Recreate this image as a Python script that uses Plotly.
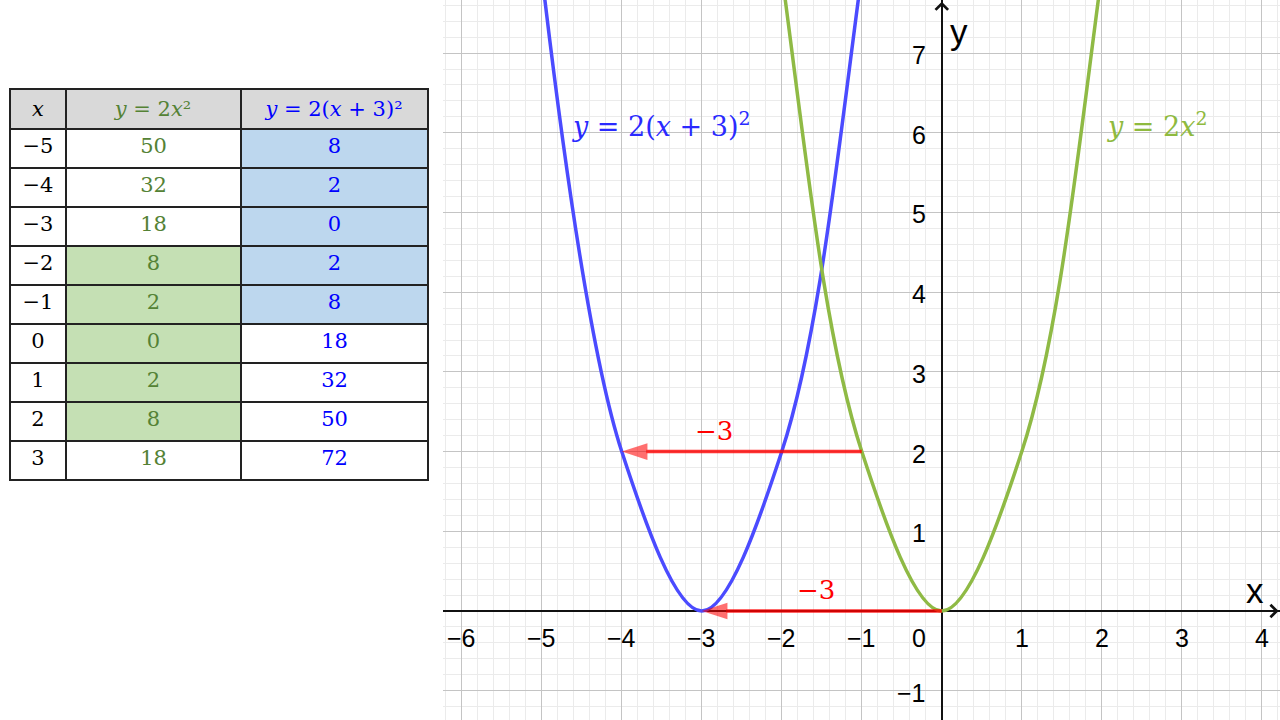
import plotly.graph_objects as go

# ---------------- data ----------------
x_vals = [-5, -4, -3, -2, -1, 0, 1, 2, 3]
y_base = [50, 32, 18, 8, 2, 0, 2, 8, 18]          # y = 2x^2
y_shifted = [8, 2, 0, 2, 8, 18, 32, 50, 72]       # y = 2(x+3)^2
x_text = ["−5", "−4", "−3", "−2", "−1", "0", "1", "2", "3"]
header_text = ["<i>x</i>", "<i>y</i> = 2<i>x</i>²", "<i>y</i> = 2(<i>x</i> + 3)²"]
green_hl = [False, False, False, True, True, True, True, True, False]
blue_hl = [True, True, True, True, True, False, False, False, False]

shift_label = "−3"
arrow_from_x = [-1, 0]
arrow_to_x = [-4, -3]
arrow_y = [2, 0]

x_tick_vals = [-6, -5, -4, -3, -2, -1, 1, 2, 3, 4]
x_tick_text = ["−6", "−5", "−4", "−3", "−2", "−1", "1", "2", "3", "4"]
y_tick_vals = [-1, 1, 2, 3, 4, 5, 6, 7]
y_tick_text = ["−1", "1", "2", "3", "4", "5", "6", "7"]

# ---------------- styles ----------------
BLUE_CURVE = "#4b4bff"
GREEN_CURVE = "#8fba45"
GREEN_TXT = "#548235"
BLUE_TXT = "#0000ff"
RED = "#ff0000"
SERIF = "DejaVu Serif"
SANS = "Liberation Sans"

fig = go.Figure()

# ---------------- table ----------------
fig.add_trace(go.Table(
    domain=dict(x=[10 / 1280, 428 / 1280], y=[1 - 486 / 720, 1 - 89 / 720]),
    columnwidth=[56, 175, 187],
    header=dict(
        values=header_text,
        fill_color="#d9d9d9",
        line=dict(color="#222222", width=1.2),
        font=dict(family=SERIF, size=21, color=["black", GREEN_TXT, BLUE_TXT]),
        align="center",
        height=39,
    ),
    cells=dict(
        values=[x_text, [str(v) for v in y_base], [str(v) for v in y_shifted]],
        fill_color=[
            ["white"] * len(x_vals),
            ["#c5e0b4" if g else "white" for g in green_hl],
            ["#bdd7ee" if b else "white" for b in blue_hl],
        ],
        line=dict(color="#222222", width=1.2),
        font=dict(family=SERIF, size=21, color=["black", GREEN_TXT, BLUE_TXT]),
        align="center",
        height=39,
    ),
))

# ---------------- curves ----------------
fig.add_trace(go.Scatter(
    x=x_vals, y=y_shifted, mode="lines",
    line=dict(color=BLUE_CURVE, width=3.5, shape="spline", smoothing=1),
    hoverinfo="skip", showlegend=False,
))
fig.add_trace(go.Scatter(
    x=x_vals, y=y_base, mode="lines",
    line=dict(color=GREEN_CURVE, width=3.5, shape="spline", smoothing=1),
    hoverinfo="skip", showlegend=False,
))

# ---------------- shift arrows ----------------
for x0, x1, yy in zip(arrow_from_x, arrow_to_x, arrow_y):
    fig.add_trace(go.Scatter(
        x=[x0, x1], y=[yy, yy], mode="lines+markers",
        line=dict(color=RED, width=3.5),
        marker=dict(symbol=["circle", "arrow"], size=[0, 27], color=RED,
                    angleref="previous", line=dict(width=0)),
        opacity=0.8, hoverinfo="skip", showlegend=False,
    ))

fig.update_layout(
    width=1280, height=720,
    margin=dict(l=0, r=0, t=0, b=0),
    paper_bgcolor="white", plot_bgcolor="white",
    showlegend=False,
    xaxis=dict(
        domain=[443 / 1280, 1], range=[-6.234, 4.227],
        dtick=1, tick0=0, showgrid=True, gridcolor="#c4c4c4", gridwidth=1,
        minor=dict(dtick=0.2, tick0=0, showgrid=True, gridcolor="#ebebeb", gridwidth=1),
        zeroline=True, zerolinecolor="#111111", zerolinewidth=1.5,
        showticklabels=False, ticks="", fixedrange=True,
    ),
    yaxis=dict(
        domain=[0, 1], range=[-1.368, 7.666],
        dtick=1, tick0=0, showgrid=True, gridcolor="#c4c4c4", gridwidth=1,
        minor=dict(dtick=0.2, tick0=0, showgrid=True, gridcolor="#ebebeb", gridwidth=1),
        zeroline=True, zerolinecolor="#111111", zerolinewidth=1.5,
        showticklabels=False, ticks="", fixedrange=True,
    ),
)

ann = []
TICKFONT = dict(family=SANS, size=25, color="black")
# x tick labels
for v, t in zip(x_tick_vals, x_tick_text):
    ann.append(dict(x=v, y=0, xref="x", yref="y", text=t, showarrow=False,
                    yshift=-27, font=TICKFONT))
ann.append(dict(x=0, y=0, xref="x", yref="y", text="0", showarrow=False,
                xanchor="right", xshift=-14, yshift=-27, font=TICKFONT))
# y tick labels
for v, t in zip(y_tick_vals, y_tick_text):
    ann.append(dict(x=0, y=v, xref="x", yref="y", text=t, showarrow=False,
                    xanchor="right", xshift=-14, yshift=-2, font=TICKFONT))
# axis titles
ann.append(dict(x=4.227, y=0, xref="x", yref="y", text="x", showarrow=False,
                xanchor="right", xshift=-14, yshift=20,
                font=dict(family=SANS, size=35, color="black")))
ann.append(dict(x=0, y=7.666, xref="x", yref="y", text="y", showarrow=False,
                xanchor="left", yanchor="top", xshift=6, yshift=-10,
                font=dict(family=SANS, size=35, color="black")))
# axis arrow heads
ann.append(dict(x=4.21, y=0, xref="x", yref="y", ax=-14, ay=0, showarrow=True,
                arrowhead=4, arrowwidth=1.1, arrowsize=2.2, arrowcolor="#111111", text=""))
ann.append(dict(x=0, y=7.645, xref="x", yref="y", ax=0, ay=14, showarrow=True,
                arrowhead=4, arrowwidth=1.1, arrowsize=2.2, arrowcolor="#111111", text=""))
# curve labels
ann.append(dict(x=-3.5, y=6.1, xref="x", yref="y",
                text="<i>y</i> = 2(<i>x</i> + 3)<sup>2</sup>", showarrow=False,
                font=dict(family=SERIF, size=27, color="#2a2aff")))
ann.append(dict(x=2.69, y=6.1, xref="x", yref="y",
                text="<i>y</i> = 2<i>x</i><sup>2</sup>", showarrow=False,
                font=dict(family=SERIF, size=27, color="#8fba3f")))
# shift labels
ann.append(dict(x=(arrow_from_x[0] + arrow_to_x[0]) / 2, y=arrow_y[0], xref="x", yref="y",
                text=shift_label, showarrow=False, xshift=-28, yshift=21,
                font=dict(family=SERIF, size=26, color=RED)))
ann.append(dict(x=(arrow_from_x[1] + arrow_to_x[1]) / 2, y=arrow_y[1], xref="x", yref="y",
                text=shift_label, showarrow=False, xshift=-6, yshift=21,
                font=dict(family=SERIF, size=26, color=RED)))

fig.update_layout(annotations=ann)
fig.write_html("out.html", config={"displayModeBar": False},
               post_script="document.body.style.margin='0px';document.body.style.overflow='hidden';")
